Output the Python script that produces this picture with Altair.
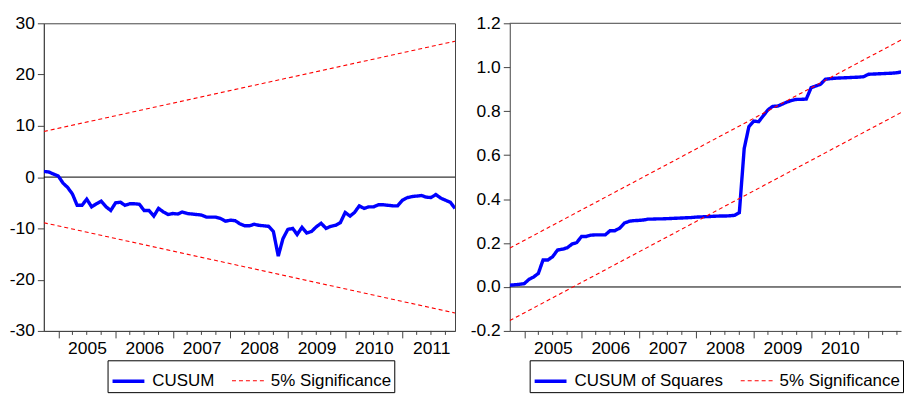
import altair as alt
import pandas as pd

FONT = "Liberation Sans"

# ---- data (monthly, 2004M10 .. 2011M12) ----
months = pd.date_range("2004-10-01", "2011-12-01", freq="MS")

cusum = [1.1, 1.0, 0.6, 0.2, -1.2, -2.0, -3.3, -5.5, -5.5, -4.3,
         -5.8, -5.2, -4.7, -5.8, -6.5, -5.0, -4.9, -5.5, -5.2, -5.2,
         -5.3, -6.5, -6.5, -7.6, -6.1, -6.8, -7.3, -7.1, -7.2, -6.8,
         -7.1, -7.2, -7.3, -7.4, -7.8, -7.8, -7.8, -8.1, -8.6, -8.4,
         -8.5, -9.1, -9.5, -9.5, -9.2, -9.4, -9.5, -9.6, -10.6, -15.4,
         -12.0, -10.2, -10.0, -11.2, -9.8, -10.9, -10.6, -9.7, -9.0, -10.0,
         -9.6, -9.4, -8.9, -6.9, -7.6, -6.9, -5.6, -6.1, -5.8, -5.8,
         -5.4, -5.4, -5.5, -5.6, -5.6, -4.5, -4.0, -3.8, -3.7, -3.6,
         -3.9, -4.0, -3.4, -4.1, -4.5, -4.9, -6.1]

cusumsq = [0.008, 0.010, 0.012, 0.015, 0.035, 0.045, 0.062, 0.123, 0.123, 0.138,
           0.168, 0.172, 0.178, 0.195, 0.202, 0.230, 0.230, 0.236, 0.237, 0.237,
           0.237, 0.256, 0.256, 0.268, 0.291, 0.299, 0.302, 0.303, 0.305, 0.309,
           0.309, 0.310, 0.310, 0.311, 0.312, 0.313, 0.314, 0.315, 0.316, 0.318,
           0.319, 0.320, 0.321, 0.322, 0.323, 0.323, 0.324, 0.326, 0.338, 0.630,
           0.730, 0.755, 0.752, 0.778, 0.806, 0.822, 0.823, 0.832, 0.842, 0.849,
           0.854, 0.854, 0.855, 0.907, 0.915, 0.922, 0.945, 0.948, 0.950, 0.951,
           0.952, 0.953, 0.954, 0.955, 0.957, 0.968, 0.969, 0.970, 0.971, 0.972,
           0.973, 0.975, 0.979, 0.985, 0.990, 0.995, 1.000]

bound_dates = [months[0], months[-1]]
cusum_upper = [8.9, 26.5]
cusum_lower = [-8.9, -26.5]
sq_upper = [0.177, 1.172]
sq_lower = [-0.153, 0.842]

years = list(range(2005, 2012))
quarter_months = [4, 7, 10]
sig_name = "5% Significance"

H = 309
W_LEFT = 413
W_RIGHT = 393          # right panel is cut off at the window edge, as in the picture
LEFT_END = (2011, 12, 1)
RIGHT_END = (2011, 7, 27)
MINUS = "\u2212"


def panel(main_name, main_vals, upper, lower, ydom, yvals, yfmt, legend_x,
          width, end, full_frame):
    end_ts = pd.Timestamp(*end)
    main_df = pd.DataFrame({"date": months, "value": main_vals,
                            "series": main_name, "line": "main"})
    sig_df = pd.DataFrame({"date": bound_dates * 2, "value": upper + lower,
                           "series": sig_name,
                           "line": ["upper"] * 2 + ["lower"] * 2})
    tick_dates = [pd.Timestamp(y, m, 1) for y in years for m in quarter_months]
    ticks_df = pd.DataFrame({"date": [d for d in tick_dates if d <= end_ts]})
    domain = [main_name, sig_name]

    label_expr = "timeFormat(datum.value, '%Y')"
    if not full_frame:
        label_expr = "year(datum.value) == 2011 ? '' : timeFormat(datum.value, '%Y')"

    xenc = alt.X("date:T",
                 scale=alt.Scale(domain=[alt.DateTime(year=2004, month=10, date=1),
                                         alt.DateTime(year=end[0], month=end[1], date=end[2])]),
                 axis=alt.Axis(values=[alt.DateTime(year=y, month=1, date=1) for y in years],
                               labelExpr=label_expr, labelOffset=28.8, tickSize=7,
                               labelPadding=2, labelOverlap=False, title=None))
    yenc = alt.Y("value:Q",
                 scale=alt.Scale(domain=ydom, nice=False, zero=False),
                 axis=alt.Axis(values=yvals, title=None,
                               labelExpr=f"replace(format(datum.value, '{yfmt}'), '{MINUS}', '-')"))

    leg = alt.Legend(orient="none", legendX=legend_x, legendY=338.5,
                     direction="horizontal", title=None, symbolType="stroke",
                     symbolSize=1024, columnPadding=14, labelOffset=6)
    color = alt.Color("series:N", scale=alt.Scale(domain=domain, range=["#0000ff", "#ff0000"]),
                      legend=leg)
    dash = alt.StrokeDash("series:N", scale=alt.Scale(domain=domain, range=[[1, 0], [4, 3]]),
                          legend=leg)
    sw = alt.StrokeWidth("series:N", scale=alt.Scale(domain=domain, range=[3.4, 1.1]),
                         legend=leg)

    one = pd.DataFrame({"k": [0]})
    zero = alt.Chart(one).mark_rule(color="#000", strokeWidth=1).encode(y=alt.Y(datum=0))
    minor = alt.Chart(ticks_df).mark_rule(color="#444", strokeWidth=1).encode(
        x=xenc, y=alt.value(H), y2=alt.value(H + 4))
    main = alt.Chart(main_df).mark_line(clip=True).encode(
        x=xenc, y=yenc, color=color, strokeDash=dash, strokeWidth=sw, detail="line:N")
    sig = alt.Chart(sig_df).mark_line(clip=True).encode(
        x=xenc, y=yenc, color=color, strokeDash=dash, strokeWidth=sw, detail="line:N")
    layers = [zero, minor, main, sig]
    props = dict(width=width, height=H)
    if not full_frame:
        top = alt.Chart(one).mark_rule(color="#444", strokeWidth=1).encode(y=alt.value(0))
        layers.append(top)
        props["view"] = alt.ViewBackground(strokeWidth=0)
    return alt.layer(*layers).properties(**props)


left = panel("CUSUM", cusum, cusum_upper, cusum_lower, [-30, 30],
             [-30, -20, -10, 0, 10, 20, 30], "d", 64, W_LEFT, LEFT_END, True)
right = panel("CUSUM of Squares", cusumsq, sq_upper, sq_lower, [-0.2, 1.2],
              [-0.2, 0.0, 0.2, 0.4, 0.6, 0.8, 1.0, 1.2], ".1f", 20, W_RIGHT, RIGHT_END, False)

chart = alt.hconcat(left, right, spacing=14).resolve_scale(
    x="independent", y="independent", color="independent",
    strokeDash="independent", strokeWidth="independent"
).resolve_legend(color="independent", strokeDash="independent", strokeWidth="independent"
).properties(
    padding={"left": 0, "top": 4.5, "right": 0, "bottom": 0}
).configure_view(
    stroke="#444", strokeWidth=1
).configure_axis(
    labelFont=FONT, labelFontSize=17.5, labelColor="#000",
    domainColor="#444", tickColor="#444", grid=False, tickSize=6.5, labelPadding=3
).configure_legend(
    labelFont=FONT, labelFontSize=17, labelColor="#000",
    strokeColor="#000", padding=3, fillColor="#fff"
)

chart.save("out.html", embed_options={"renderer": "svg", "actions": False})
